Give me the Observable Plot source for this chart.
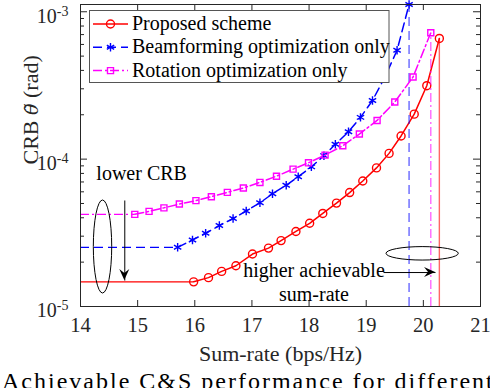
<!DOCTYPE html>
<html><head><meta charset="utf-8">
<script src="https://cdn.jsdelivr.net/npm/d3@7"></script>
<script src="https://cdn.jsdelivr.net/npm/@observablehq/plot@0.6"></script>
<style>
html,body{margin:0;padding:0;background:#fff;overflow:hidden;width:490px;height:388px;}
#chart{position:absolute;left:0;top:0;}
#caption{position:absolute;left:2px;top:369px;font-family:"Liberation Serif",serif;font-size:24px;line-height:24px;letter-spacing:2px;word-spacing:0px;white-space:nowrap;color:#000;}
</style></head><body>
<div id="chart"></div>
<div id="caption">Achievable C&amp;S performance for different</div>
<script>
// ---- data ----
const seriesNames = ["Proposed scheme", "Beamforming optimization only", "Rotation optimization only"];
const xTicks = [14, 15, 16, 17, 18, 19, 20, 21];
const yMajor = [1e-5, 1e-4, 1e-3];
const yMinor = [2e-5,3e-5,4e-5,5e-5,6e-5,7e-5,8e-5,9e-5,2e-4,3e-4,4e-4,5e-4,6e-4,7e-4,8e-4,9e-4];
const yTop = 1.12e-3;
const xLabel = "Sum-rate (bps/Hz)";
const yLabel = "CRB θ̃ (rad)";

const proposedRate = [15.98,16.24,16.47,16.72,17.01,17.29,17.51,17.77,18.01,18.24,18.48,18.71,18.94,19.18,19.40,19.61,19.84,20.06,20.28];
const proposedCRB  = [1.47e-5,1.57e-5,1.73e-5,1.89e-5,2.27e-5,2.49e-5,2.80e-5,3.23e-5,3.67e-5,4.28e-5,5.03e-5,5.93e-5,7.11e-5,8.72e-5,1.094e-4,1.436e-4,2.02e-4,3.15e-4,6.59e-4];
const beamRate = [15.70,15.96,16.19,16.43,16.67,16.90,17.14,17.36,17.60,17.81,18.04,18.26,18.46,18.69,18.90,19.11,19.33,19.54,19.75];
const beamCRB  = [2.52e-5,2.83e-5,3.14e-5,3.54e-5,3.95e-5,4.45e-5,5.05e-5,5.82e-5,6.65e-5,7.60e-5,8.86e-5,1.056e-4,1.26e-4,1.535e-4,1.92e-4,2.50e-4,3.63e-4,5.48e-4,1.12e-3];
const rotRate = [14.95,15.20,15.46,15.73,16.02,16.29,16.57,16.85,17.14,17.43,17.72,17.99,18.28,18.59,18.88,19.19,19.50,19.82,20.13];
const rotCRB  = [4.22e-5,4.42e-5,4.67e-5,4.96e-5,5.23e-5,5.56e-5,5.95e-5,6.37e-5,6.95e-5,7.66e-5,8.55e-5,9.44e-5,1.065e-4,1.232e-4,1.48e-4,1.83e-4,2.44e-4,3.61e-4,7.21e-4];

// annotations (data coordinates)
const annotTexts = [
  {x: 15.07, y: 8.11e-5, text: "lower CRB"},
  {x: 18.086, y: 1.49e-5, text: "higher achievable\nsum-rate"}
];
const annotArrows = [
  {x1: 14.775, y1: 5.24e-5, x2: 14.775, y2: 1.50e-5},
  {x1: 19.303, y1: 1.70e-5, x2: 20.213, y2: 1.70e-5}
];
const annotEllipses = [
  {x1: 14.233, x2: 14.555, y1: 5.24e-5, y2: 1.225e-5},
  {x1: 19.355, x2: 20.62, y1: 2.53e-5, y2: 2.05e-5}
];

// ---- styles ----
const seriesColors = ["#ff0000", "#0000ff", "#ff00ff"];
const seriesDash = [null, "9,5", "9,3,2,3"];
const seriesSymbols = ["circle", "asterisk", "square"];
const seriesR = [4, 4, 3.4];
const axisColor = "#262626";
const FONT = "Liberation Serif, Times New Roman, serif";

const W = 490, H = 372, ML = 80, MR = 10, MT = 4, MB = 66;
const FW = W - ML - MR, FH = H - MT - MB;

const rates = [proposedRate, beamRate, rotRate];
const crbs = [proposedCRB, beamCRB, rotCRB];
const series = rates.map((r, i) => r.map((x, j) => ({x, y: crbs[i][j]})));

const marks = [];
series.forEach((pts, i) => {
  const c = seriesColors[i], dash = seriesDash[i];
  marks.push(
    Plot.ruleY([pts[0]], {y: "y", x1: () => xTicks[0], x2: "x", stroke: c, strokeWidth: 1.1, strokeDasharray: dash}),
    Plot.ruleX([pts[pts.length - 1]], {x: "x", y1: () => yMajor[0], y2: "y", stroke: c, strokeOpacity: 0.6, strokeWidth: 1.4, strokeDasharray: dash}),
    Plot.line(pts, {x: "x", y: "y", stroke: c, strokeWidth: 1.5, strokeDasharray: dash}),
    Plot.dot(pts, {x: "x", y: "y", symbol: seriesSymbols[i], r: seriesR[i], stroke: c, strokeWidth: 1.4, fill: "none"})
  );
});

const plot = Plot.plot({
  width: W, height: H,
  marginLeft: ML, marginRight: MR, marginTop: MT, marginBottom: MB,
  x: {domain: [xTicks[0], xTicks[xTicks.length - 1]]},
  y: {type: "log", domain: [yMajor[0], yTop]},
  style: {fontFamily: FONT, background: "white", color: "black"},
  marks: [
    ...marks,
    // inward ticks
    Plot.tickX(xTicks, {x: d => d, insetTop: FH - 6, stroke: axisColor}),
    Plot.tickX(xTicks, {x: d => d, insetBottom: FH - 6, stroke: axisColor}),
    Plot.tickY(yMajor, {y: d => d, insetRight: FW - 7, stroke: axisColor}),
    Plot.tickY(yMajor, {y: d => d, insetLeft: FW - 7, stroke: axisColor}),
    Plot.tickY(yMinor, {y: d => d, insetRight: FW - 4, stroke: axisColor}),
    Plot.tickY(yMinor, {y: d => d, insetLeft: FW - 4, stroke: axisColor}),
    Plot.frame({stroke: axisColor, strokeWidth: 1}),
    Plot.axisX(xTicks, {tickSize: 0, tickPadding: 11, fontSize: 20.5, label: null, fill: axisColor}),
    Plot.axisY(yMajor, {tickSize: 0, tickPadding: 12, fontSize: 20, dy: 4.5, label: null, fill: axisColor,
      tickFormat: d => "10^" + Math.round(Math.log10(d))}),
    Plot.text([xLabel], {text: d => d, frameAnchor: "bottom", dy: 47, lineAnchor: "middle", fontSize: 22, fill: axisColor}),
    Plot.text([yLabel], {text: d => d, frameAnchor: "left", rotate: -90, dx: -50, dy: 9, lineAnchor: "middle", fontSize: 22, fill: axisColor}),
    // annotations
    Plot.text(annotTexts, {x: "x", y: "y", text: "text", fontSize: 20, lineAnchor: "middle", lineHeight: 1.2, fill: "black"}),
    Plot.link(annotArrows, {x1: "x1", y1: "y1", x2: "x2", y2: "y2", stroke: "black", strokeWidth: 1})
  ]
});

document.getElementById("chart").appendChild(plot);
const svg = d3.select(plot);
const sx = plot.scale("x"), sy = plot.scale("y");

// superscript tick labels
svg.selectAll('g[aria-label="y-axis tick label"] text').each(function() {
  const t = d3.select(this);
  const parts = t.text().split("^");
  t.text(null);
  t.append("tspan").text(parts[0]);
  t.append("tspan").attr("dy", -7).attr("font-size", 14).text(parts[1]);
});
// italic theta (with tilde) in y label
svg.selectAll("text").each(function() {
  const t = d3.select(this);
  if (t.text() === yLabel) {
    t.text(null);
    t.append("tspan").text("CRB ");
    t.append("tspan").attr("font-style", "italic").attr("font-family", "DejaVu Serif").attr("font-size", 19).text("θ̃");
    t.append("tspan").text(" (rad)");
  }
});

// filled arrow heads
annotArrows.forEach(a => {
  const x1 = sx.apply(a.x1), y1 = sy.apply(a.y1), x2 = sx.apply(a.x2), y2 = sy.apply(a.y2);
  const ang = Math.atan2(y2 - y1, x2 - x1);
  const L = 11, Wd = 5, back = 7;
  const p = (d, s) => [x2 - d * Math.cos(ang) - s * Math.sin(ang), y2 - d * Math.sin(ang) + s * Math.cos(ang)];
  const pts = [[x2, y2], p(L, Wd), p(back, 0), p(L, -Wd)];
  svg.append("path").attr("d", "M" + pts.map(q => q.join(",")).join("L") + "Z").attr("fill", "black");
});
// ellipses
annotEllipses.forEach(e => {
  const a = sx.apply(e.x1), b = sx.apply(e.x2), c = sy.apply(e.y1), d = sy.apply(e.y2);
  svg.append("ellipse").attr("cx", (a + b) / 2).attr("cy", (c + d) / 2)
    .attr("rx", Math.abs(b - a) / 2).attr("ry", Math.abs(d - c) / 2)
    .attr("fill", "none").attr("stroke", "black").attr("stroke-width", 1);
});

// legend
const LX = 89.5, LY = 10.5, LW = 299.5, rowH = 23.3, row0 = 24;
const lg = svg.append("g").attr("font-family", FONT).attr("font-size", 20).attr("text-anchor", "start");
lg.append("rect").attr("x", LX).attr("y", LY).attr("width", LW).attr("height", 72)
  .attr("fill", "white").attr("stroke", "#555").attr("stroke-width", 1);
const symMap = {circle: d3.symbolCircle, asterisk: d3.symbolAsterisk, square: d3.symbolSquare};
seriesNames.forEach((name, i) => {
  const y = row0 + i * rowH;
  lg.append("line").attr("x1", 93).attr("x2", 128).attr("y1", y).attr("y2", y)
    .attr("stroke", seriesColors[i]).attr("stroke-width", 1.5).attr("stroke-dasharray", seriesDash[i]);
  lg.append("path").attr("transform", `translate(110.5,${y})`)
    .attr("d", d3.symbol(symMap[seriesSymbols[i]], seriesR[i] * seriesR[i] * Math.PI)())
    .attr("fill", "none").attr("stroke", seriesColors[i]).attr("stroke-width", 1.4);
  lg.append("text").attr("x", 132).attr("y", y + 6).attr("fill", "black").text(name);
});
</script>
</body></html>
